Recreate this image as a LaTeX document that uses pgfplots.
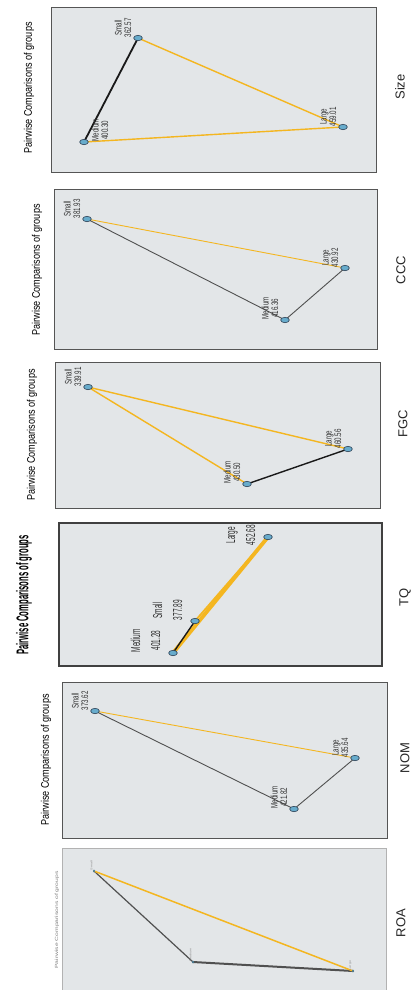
\documentclass[border=0pt]{standalone}
\usepackage{pgfplots}
\pgfplotsset{compat=1.18}
\usepackage{fontspec}
\setmainfont{Liberation Sans}
\newfontfamily\lblfont[FakeStretch=0.65]{Liberation Sans}
\newfontfamily\tqlblfont[FakeStretch=0.5]{Liberation Sans}
\newfontfamily\ttlfont[FakeStretch=0.83]{Liberation Sans}
\newfontfamily\tqttlfont[FakeStretch=0.45]{Liberation Sans}
\newfontfamily\roafont[FakeStretch=1.5]{Liberation Sans}
\definecolor{panelbg}{RGB}{227,230,232}
\definecolor{border}{RGB}{85,85,85}
\definecolor{edgeor}{RGB}{244,182,32}
\definecolor{edgebk}{RGB}{25,25,25}
\definecolor{edgegr}{RGB}{80,80,80}
\definecolor{nfill}{RGB}{104,172,204}
\definecolor{ndraw}{RGB}{45,65,85}
\definecolor{lbltext}{RGB}{50,50,50}
\pgfplotsset{
  panel/.style={anchor=north west, scale only axis, clip=false, y dir=reverse,
    xtick=\empty, ytick=\empty,
    axis background/.style={fill=panelbg},
    axis line style={draw=border, line width=0.9pt},
    every node near coord/.append style={font={\lblfont\fontsize{9.5pt}{9.5pt}\selectfont}, align=center, inner sep=0.5pt, text=lbltext}},
  edge/.style={no marks, line cap=round},
  gnode/.style={only marks, mark=*, mark size=2.7pt,
    mark options={xscale=1.6, fill=nfill, draw=ndraw, line width=0.6pt}},
  lblL/.style={every node near coord/.append style={xshift=-6pt, rotate=90, anchor=south west}},
  lblR/.style={every node near coord/.append style={xshift=7pt, rotate=90, anchor=north west}},
  tqL/.style={every node near coord/.append style={xshift=-12pt, yshift=#1, rotate=90, anchor=south west}},
}
\newcommand{\ttl}{Pairwise Comparisons of groups}
\begin{document}
\begin{tikzpicture}
\useasboundingbox (0,0) rectangle (413pt,-990pt);
% ---------------- Size ----------------
\begin{axis}[panel, at={(51pt,-7pt)}, width=325pt, height=165pt, xmin=51, xmax=376, ymin=7, ymax=172]
\addplot[edge, edgebk, line width=1.8pt] coordinates {(138,38) (84,142)};
\addplot[edge, edgeor, line width=1.4pt] coordinates {(138,38) (343,127)};
\addplot[edge, edgeor, line width=1.4pt] coordinates {(84,142) (343,127)};
\addplot[gnode, lblL, nodes near coords={Small\\362.57}] coordinates {(138,38)};
\addplot[gnode, lblR, nodes near coords={Medium\\400.30}] coordinates {(84,142)};
\addplot[gnode, lblL, nodes near coords={Large\\459.01}] coordinates {(343,127)};
\node[rotate=90, font={\ttlfont\fontsize{11pt}{13pt}\selectfont}] at (axis cs:29,88) {\ttl};
\node[rotate=90, font=\fontsize{13pt}{15pt}\selectfont, text=black!85] at (axis cs:400,87) {Size};
\end{axis}
% ---------------- CCC ----------------
\begin{axis}[panel, at={(54pt,-189pt)}, width=323pt, height=160pt, xmin=54, xmax=377, ymin=189, ymax=349]
\addplot[edge, edgegr, line width=0.9pt] coordinates {(87,219) (285,320)};
\addplot[edge, edgegr, line width=0.9pt] coordinates {(285,320) (345,268)};
\addplot[edge, edgeor, line width=0.9pt] coordinates {(87,219) (345,268)};
\addplot[gnode, lblL, nodes near coords={Small\\381.93}] coordinates {(87,219)};
\addplot[gnode, lblL, nodes near coords={Medium\\416.36}] coordinates {(285,320)};
\addplot[gnode, lblL, nodes near coords={Large\\430.92}] coordinates {(345,268)};
\node[rotate=90, font={\ttlfont\fontsize{11pt}{13pt}\selectfont}] at (axis cs:37,270) {\ttl};
\node[rotate=90, font=\fontsize{13pt}{15pt}\selectfont, text=black!85] at (axis cs:401,270) {CCC};
\end{axis}
% ---------------- FGC ----------------
\begin{axis}[panel, at={(55pt,-362pt)}, width=325pt, height=146pt, xmin=55, xmax=380, ymin=362, ymax=508]
\addplot[edge, edgeor, line width=1.4pt] coordinates {(88,387) (247,484)};
\addplot[edge, edgeor, line width=1.4pt] coordinates {(88,387) (348,449)};
\addplot[edge, edgebk, line width=1.4pt] coordinates {(247,484) (348,449)};
\addplot[gnode, lblL, nodes near coords={Small\\339.91}] coordinates {(88,387)};
\addplot[gnode, lblL, nodes near coords={Medium\\430.50}] coordinates {(247,484)};
\addplot[gnode, lblL, nodes near coords={Large\\460.56}] coordinates {(348,449)};
\node[rotate=90, font={\ttlfont\fontsize{11pt}{13pt}\selectfont}] at (axis cs:32,435) {\ttl};
\node[rotate=90, font=\fontsize{13pt}{15pt}\selectfont, text=black!85] at (axis cs:403,424) {FGC};
\end{axis}
% ---------------- TQ ----------------
\begin{axis}[panel, at={(59pt,-523pt)}, width=323pt, height=143pt, xmin=59, xmax=382, ymin=523, ymax=666,
  axis line style={draw=black!75, line width=1.6pt},
  every node near coord/.append style={font={\tqlblfont\fontsize{13pt}{20pt}\selectfont}}]
\addplot[edge, edgeor, line width=3.8pt] coordinates {(173,653) (268,537)};
\addplot[edge, edgeor, line width=1.8pt] coordinates {(195,621) (268,537)};
\addplot[edge, edgebk, line width=1.4pt] coordinates {(173,653) (195,621)};
\addplot[gnode, tqL=0pt, nodes near coords={Small\\377.89}] coordinates {(195,621)};
\addplot[gnode, tqL=0pt, nodes near coords={Medium\\401.28}] coordinates {(173,653)};
\addplot[gnode, tqL=-9pt, nodes near coords={Large\\452.68}] coordinates {(268,537)};
\node[rotate=90, font={\tqttlfont\bfseries\fontsize{17pt}{19pt}\selectfont}] at (axis cs:24,595) {\ttl};
\node[rotate=90, font=\fontsize{13pt}{15pt}\selectfont, text=black!85] at (axis cs:405,597) {TQ};
\end{axis}
% ---------------- NOM ----------------
\begin{axis}[panel, at={(62pt,-682pt)}, width=325pt, height=156pt, xmin=62, xmax=387, ymin=682, ymax=838]
\addplot[edge, edgegr, line width=0.9pt] coordinates {(95,711) (294,809)};
\addplot[edge, edgegr, line width=0.9pt] coordinates {(294,809) (355,758)};
\addplot[edge, edgeor, line width=0.9pt] coordinates {(95,711) (355,758)};
\addplot[gnode, lblL, nodes near coords={Small\\373.62}] coordinates {(95,711)};
\addplot[gnode, lblL, nodes near coords={Medium\\421.82}] coordinates {(294,809)};
\addplot[gnode, lblL, nodes near coords={Large\\435.64}] coordinates {(355,758)};
\node[rotate=90, font={\ttlfont\fontsize{11pt}{13pt}\selectfont}] at (axis cs:46,760) {\ttl};
\node[rotate=90, font=\fontsize{13pt}{15pt}\selectfont, text=black!85] at (axis cs:405,758) {NOM};
\end{axis}
% ---------------- ROA ----------------
\begin{axis}[panel, at={(62pt,-848pt)}, width=324pt, height=152pt, xmin=62, xmax=386, ymin=848, ymax=1000,
  axis line style={draw=black!30, line width=1pt},
  every node near coord/.append style={font={\roafont\fontsize{2.5pt}{3pt}\selectfont}, text=black!45},
  gnode/.style={only marks, mark=*, mark size=1.2pt, mark options={xscale=0.8, fill=nfill, draw=nfill!60!black, line width=0.3pt}}]
\addplot[edge, edgegr, line width=1.2pt] coordinates {(94,871) (193,962)};
\addplot[edge, edgegr, line width=2pt] coordinates {(193,962) (353,971)};
\addplot[edge, edgeor, line width=1.5pt] coordinates {(94,871) (353,971)};
\addplot[gnode, every node near coord/.append style={xshift=-1pt, rotate=90, anchor=south west}, nodes near coords={Small}] coordinates {(94,871)};
\addplot[gnode, every node near coord/.append style={xshift=-1pt, rotate=90, anchor=south west}, nodes near coords={Medium}] coordinates {(193,962)};
\addplot[gnode, every node near coord/.append style={xshift=-1pt, rotate=90, anchor=south west}, nodes near coords={Large}] coordinates {(353,971)};
\node[rotate=90, font={\roafont\fontsize{4.5pt}{5pt}\selectfont}, text=black!50] at (axis cs:57,920) {\ttl};
\node[rotate=90, font=\fontsize{13pt}{15pt}\selectfont, text=black!85] at (axis cs:401,923) {ROA};
\end{axis}
\end{tikzpicture}
\end{document}
